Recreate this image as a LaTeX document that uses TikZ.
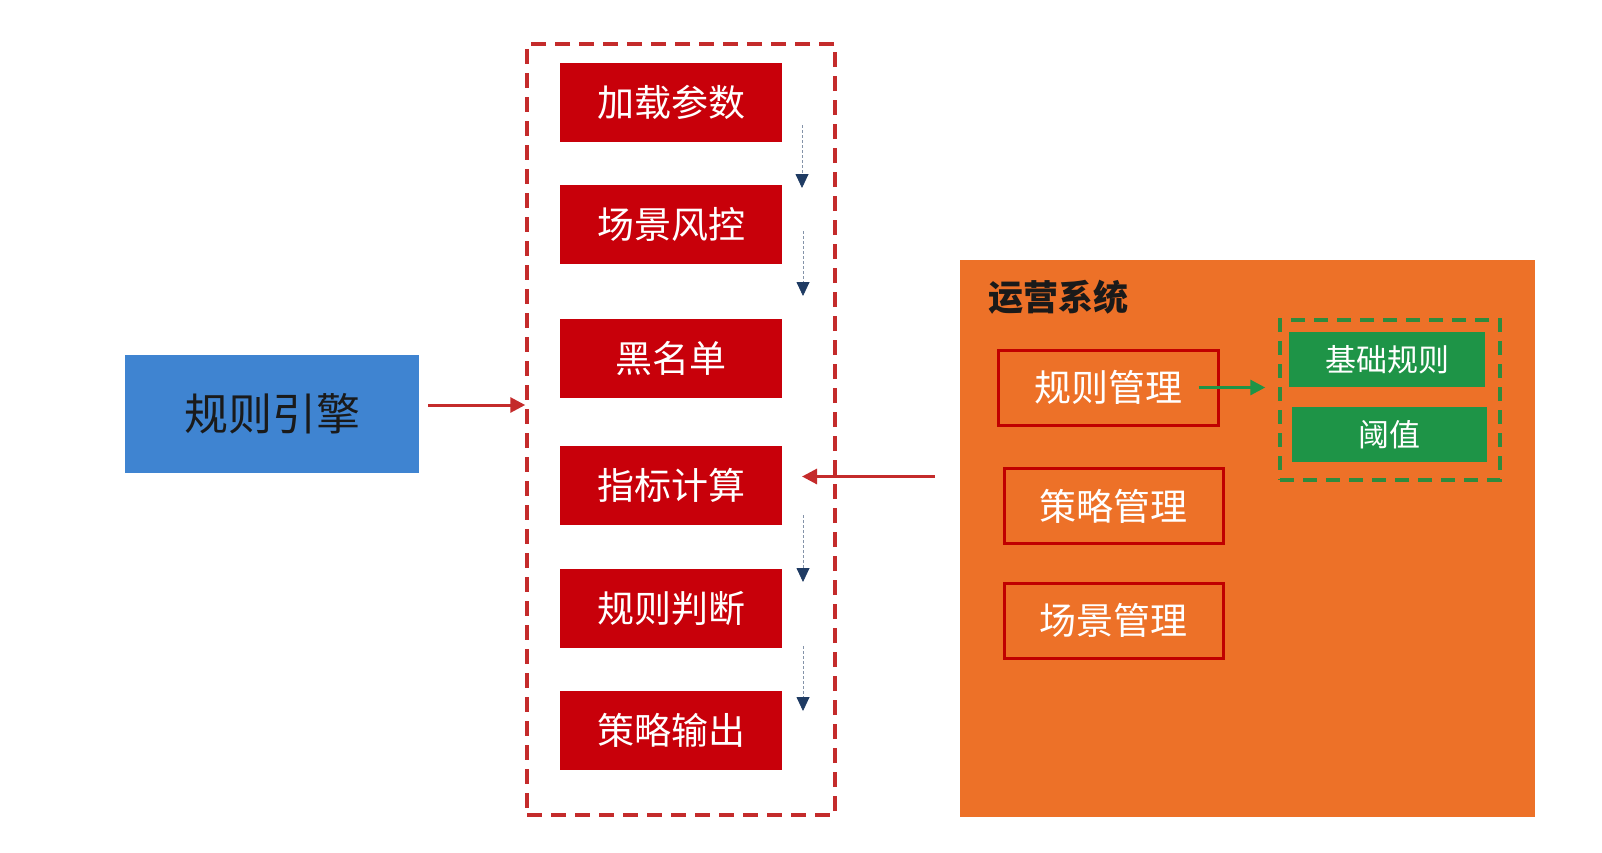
\documentclass[tikz,border=0pt]{standalone}
\usepackage{fontspec}
\setmainfont{Noto Sans CJK SC}
\usepackage{tikz}
\usetikzlibrary{arrows.meta,positioning}
\definecolor{engblue}{HTML}{3F84D1}
\definecolor{procred}{HTML}{C8000A}
\definecolor{framered}{HTML}{C42B2B}
\definecolor{opsorange}{HTML}{ED7128}
\definecolor{mgrred}{HTML}{C00000}
\definecolor{rulegreen}{HTML}{1E9447}
\definecolor{dashgreen}{HTML}{2E8B3E}
\definecolor{flownavy}{HTML}{1F3B63}
\definecolor{inkdark}{HTML}{1A1A1A}

\begin{document}
\begin{tikzpicture}[x=1pt, y=-1pt, node distance=43pt, procbox/.style={fill=procred, text=white, minimum width=222pt, minimum height=79pt, inner sep=0pt, outer sep=0pt, font=\fontsize{37}{40}\selectfont}, mgrbox/.style={draw=mgrred, line width=3pt, text=white, minimum width=219pt, minimum height=75pt, inner sep=0pt, font=\fontsize{37}{40}\selectfont}, rulebox/.style={fill=rulegreen, text=white, minimum width=196pt, minimum height=55pt, inner sep=0pt, font=\fontsize{31}{34}\selectfont}, engarrow/.style={draw=framered, line width=3pt, -{Triangle[width=15pt,length=15pt]}}, flowarrow/.style={draw=flownavy!55, line width=0.8pt, densely dashed, -{Triangle[width=13pt,length=14pt,color=flownavy]}}, >=Stealth]
\useasboundingbox (0,0) rectangle (1602,852);
\node[fill=engblue, text=inkdark, minimum width=294pt, minimum height=118pt, font=\fontsize{44}{46}\selectfont] (rule) at (272,414) {规则引擎};
\node[draw=framered, line width=3.5pt, dash pattern=on 15pt off 9pt, minimum width=308pt, minimum height=771pt] (frame) at (681,429.5) {};
\node[procbox] (b1) at (671,102.5) {加载参数};
\node[procbox, below=of b1] (b2) {场景风控};
\node[procbox, below=55pt of b2] (b3) {黑名单};
\node[procbox, below=48pt of b3] (b4) {指标计算};
\node[procbox, below=44pt of b4] (b5) {规则判断};
\node[procbox, below=of b5] (b6) {策略输出};
\node[fill=opsorange, minimum width=575pt, minimum height=557pt] (ops) at (1247.5,538.5) {};
\node[anchor=west, inner sep=0pt, text=inkdark, font=\fontsize{35}{38}\selectfont\bfseries] (opstitle) at (988,297) {运营系统};
\node[mgrbox, minimum width=220pt] (m1) at (1108,387.5) {规则管理};
\node[mgrbox] (m2) at (1113.5,506) {策略管理};
\node[mgrbox] (m3) at (1113.5,620.5) {场景管理};
\node[draw=dashgreen, line width=3.5pt, dash pattern=on 14pt off 9pt, minimum width=220pt, minimum height=160pt] (gframe) at (1390,400) {};
\node[rulebox] (g1) at (1387,359.5) {基础规则};
\node[rulebox, minimum width=195pt] (g2) at (1389.5,434.5) {阈值};
\coordinate (ein) at ([shift={(9pt,9pt)}]rule.east);
\coordinate (b4r) at ([shift={(20pt,9pt)}]b4.east);
\draw[engarrow] (ein) -- (ein -| frame.west);
\draw[engarrow] ([xshift=-25pt]ops.west |- b4r) -- (b4r);
\draw[flowarrow] ([shift={(20pt,17pt)}]b1.south east) -- ([shift={(20pt,-3pt)}]b2.north east);
\draw[flowarrow] ([shift={(21pt,33pt)}]b2.south east) -- ([shift={(21pt,23pt)}]b3.north east);
\draw[flowarrow] ([shift={(21pt,10pt)}]b4.south east) -- ([shift={(21pt,-13pt)}]b5.north east);
\draw[flowarrow] ([shift={(21pt,2pt)}]b5.south east) -- ([shift={(21pt,-20pt)}]b6.north east);
\draw[draw=rulegreen, line width=3pt, -{Triangle[width=15pt,length=15pt]}] ([xshift=-21pt]m1.east) -- ([xshift=-13pt]m1.east -| gframe.west);
\end{tikzpicture}
\end{document}
